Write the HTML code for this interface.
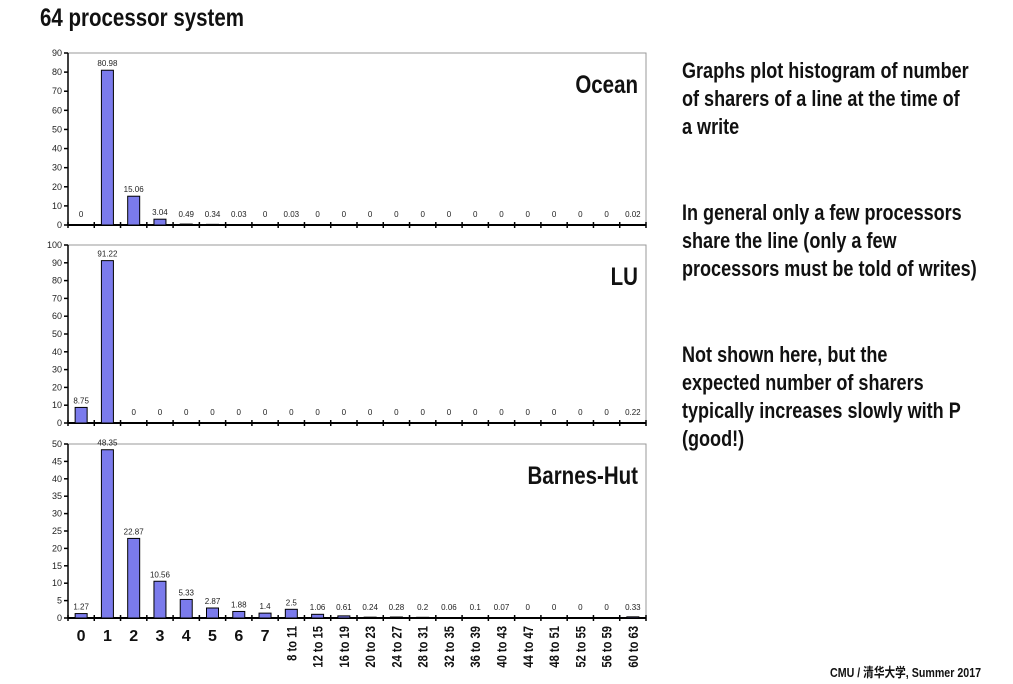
<!DOCTYPE html>
<html><head><meta charset="utf-8"><style>
body{margin:0;background:#fff;width:1013px;height:684px;overflow:hidden;font-family:"Liberation Sans",sans-serif}
.t{position:absolute;font-family:"Liberation Sans","Noto Sans CJK SC",sans-serif;font-weight:bold;color:#111;transform:scaleX(0.82);transform-origin:left top;white-space:nowrap}
</style></head><body>
<div class="t" style="left:40px;top:4px;font-size:25px;">64 processor system</div>
<div class="t" style="left:682px;top:57px;font-size:22px;line-height:28px;">Graphs plot histogram of number<br>of sharers of a line at the time of<br>a write</div>
<div class="t" style="left:682px;top:199px;font-size:22px;line-height:28px;">In general only a few processors<br>share the line (only a few<br>processors must be told of writes)</div>
<div class="t" style="left:682px;top:341px;font-size:22px;line-height:28px;">Not shown here, but the<br>expected number of sharers<br>typically increases slowly with P<br>(good!)</div>
<div class="t" style="left:830px;top:662px;font-size:13px;">CMU / 清华大学, Summer 2017</div>
<svg id="c" width="1013" height="684" style="position:absolute;left:0;top:0"></svg>
<script>
const categories=["0","1","2","3","4","5","6","7","8 to 11","12 to 15","16 to 19","20 to 23","24 to 27","28 to 31","32 to 35","36 to 39","40 to 43","44 to 47","48 to 51","52 to 55","56 to 59","60 to 63"];
const oceanValues=[0,80.98,15.06,3.04,0.49,0.34,0.03,0,0.03,0,0,0,0,0,0,0,0,0,0,0,0,0.02];
const luValues=[8.75,91.22,0,0,0,0,0,0,0,0,0,0,0,0,0,0,0,0,0,0,0,0.22];
const bhValues=[1.27,48.35,22.87,10.56,5.33,2.87,1.88,1.4,2.5,1.06,0.61,0.24,0.28,0.2,0.06,0.1,0.07,0,0,0,0,0.33];
const oceanTicks=[0,10,20,30,40,50,60,70,80,90];
const luTicks=[0,10,20,30,40,50,60,70,80,90,100];
const bhTicks=[0,5,10,15,20,25,30,35,40,45,50];
const svg=document.getElementById('c');
const NS='http://www.w3.org/2000/svg';
const X0=68,X1=646,cw=(X1-X0)/categories.length;
function mk(t,a,p){const e=document.createElementNS(NS,t);for(const k in a)e.setAttribute(k,a[k]);(p||svg).appendChild(e);return e;}
function panel(name,vals,ticks,yTop,yBot,label){
  const g=mk('g',{});
  
  
  const max=ticks[ticks.length-1];
  const y=v=>yBot-(v/max)*(yBot-yTop);
  mk('rect',{x:X0,y:yTop,width:X1-X0,height:yBot-yTop,fill:'none',stroke:'#999','stroke-width':1},g);
  ticks.forEach(t=>{
    mk('line',{x1:X0-4,x2:X0,y1:y(t),y2:y(t),stroke:'#000','stroke-width':1.5},g);
    const tx=mk('text',{x:X0-6,y:y(t)+3,'font-size':9,'text-anchor':'end',fill:'#222'},g);
    tx.textContent=t;
    
    
  });
  mk('line',{x1:X0,x2:X0,y1:yTop,y2:yBot,stroke:'#000','stroke-width':1.5},g);
  mk('line',{x1:X0,x2:X1,y1:yBot,y2:yBot,stroke:'#000','stroke-width':2},g);
  for(let i=0;i<=categories.length;i++)mk('line',{x1:X0+i*cw,x2:X0+i*cw,y1:yBot-3,y2:yBot+3,stroke:'#000','stroke-width':1.5},g);
  vals.forEach((v,i)=>{
    const cx=X0+(i+0.5)*cw;
    const r=mk('rect',{x:cx-6,y:y(v),width:12,height:yBot-y(v),fill:'#7b7bec',stroke:'#000','stroke-width':1},g);
    
    
    const l=mk('text',{x:cx,y:Math.min(y(v),yBot-4)-4,'font-size':8,'text-anchor':'middle',fill:'#222'},g);
    l.textContent=v;
    
    
  });
  const lb=mk('text',{x:X1-8,y:yTop+40,'font-size':25,'font-weight':'bold','text-anchor':'end',fill:'#111',transform:`translate(${(X1-8)*0.18},0) scale(0.82,1)`},g);
  lb.textContent=label;
  
  
}
panel('ocean',oceanValues,oceanTicks,53,225,'Ocean');
panel('lu',luValues,luTicks,245,423,'LU');
panel('barnes-hut',bhValues,bhTicks,444,618,'Barnes-Hut');
categories.forEach((c,i)=>{
  const cx=X0+(i+0.5)*cw;
  let t;
  if(i<8){t=mk('text',{x:cx,y:641,'font-size':16,'font-weight':'bold','text-anchor':'middle',fill:'#111'});}
  else{t=mk('text',{x:0,y:0,'font-size':14,'font-weight':'bold','text-anchor':'end',fill:'#111',transform:`translate(${cx+5},626) rotate(-90) scale(0.8,1)`});}
  t.textContent=c;
  
  
});
</script>
</body></html>
